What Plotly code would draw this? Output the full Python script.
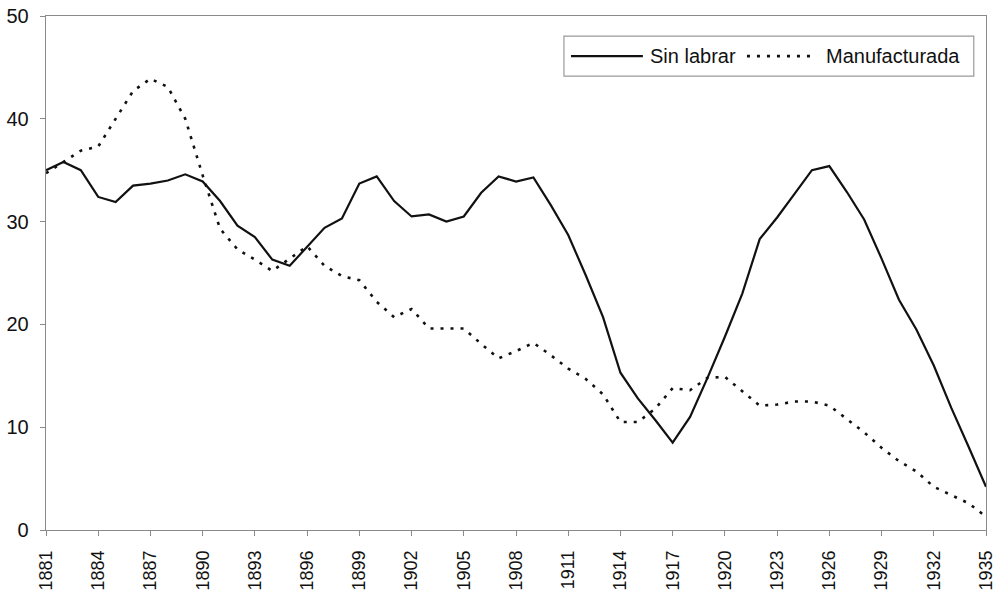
import plotly.graph_objects as go

years = list(range(1881, 1936))

sin_labrar = [35.0, 35.8, 35.0, 32.4, 31.9, 33.5, 33.7, 34.0, 34.6, 33.9,
              32.0, 29.6, 28.5, 26.3, 25.7, 27.5, 29.4, 30.3, 33.7, 34.4,
              32.0, 30.5, 30.7, 30.0, 30.5, 32.8, 34.4, 33.9, 34.3, 31.6,
              28.7, 24.8, 20.7, 15.3, 12.8, 10.7, 8.5, 11.0, 14.8, 18.8,
              23.0, 28.3, 30.4, 32.7, 35.0, 35.4, 32.9, 30.2, 26.4, 22.4,
              19.5, 16.0, 11.9, 8.1, 4.2]

manufacturada = [34.7, 35.8, 36.9, 37.3, 40.0, 42.7, 43.9, 43.1, 40.0, 34.5,
                 29.3, 27.3, 26.3, 25.2, 26.4, 27.6, 25.7, 24.7, 24.3, 22.2,
                 20.7, 21.5, 19.6, 19.6, 19.6, 18.1, 16.7, 17.4, 18.2, 17.0,
                 15.7, 14.7, 13.2, 10.5, 10.5, 11.8, 13.8, 13.6, 14.8, 14.9,
                 13.5, 12.1, 12.2, 12.5, 12.5, 12.1, 10.8, 9.5, 8.0, 6.7,
                 5.7, 4.2, 3.4, 2.6, 1.3]

series_names = ["Sin labrar", "Manufacturada"]
tick_years = list(range(1881, 1936, 3))
y_ticks = [0, 10, 20, 30, 40, 50]

FONT = "Arial, Liberation Sans, Helvetica, sans-serif"
INK = "#111111"
AXIS = "#8a8a8a"
SOLID = dict(color=INK, width=2.2)
DOTTED = dict(color=INK, width=2.6, dash="3px,7px")

fig = go.Figure()
fig.add_trace(go.Scatter(x=years, y=sin_labrar, mode="lines", name=series_names[0],
                         line=SOLID, showlegend=False))
fig.add_trace(go.Scatter(x=years, y=manufacturada, mode="lines", name=series_names[1],
                         line=DOTTED, showlegend=False))

# custom legend (Excel-style box with long line samples)
fig.add_shape(type="rect", xref="paper", yref="paper", x0=0.551, x1=0.987,
              y0=0.883, y1=0.961, line=dict(color="#999999", width=1.2),
              fillcolor="white", layer="above")
fig.add_shape(type="line", xref="paper", yref="paper", x0=0.5585, x1=0.635,
              y0=0.922, y1=0.922, line=SOLID, layer="above")
fig.add_shape(type="line", xref="paper", yref="paper", x0=0.7457, x1=0.816,
              y0=0.922, y1=0.922, line=DOTTED, layer="above")
fig.add_annotation(xref="paper", yref="paper", x=0.6405, y=0.922, text=series_names[0],
                   showarrow=False, xanchor="left", yanchor="middle",
                   font=dict(size=20, family=FONT, color=INK))
fig.add_annotation(xref="paper", yref="paper", x=0.8277, y=0.922, text=series_names[1],
                   showarrow=False, xanchor="left", yanchor="middle",
                   font=dict(size=20, family=FONT, color=INK))

fig.update_layout(
    width=1004, height=591,
    margin=dict(l=46, r=18, t=16, b=61, autoexpand=False),
    paper_bgcolor="white", plot_bgcolor="white",
    font=dict(family=FONT, color=INK, size=19),
    showlegend=False,
)
fig.update_xaxes(range=[1881, 1935], tickmode="array", tickvals=tick_years,
                 ticktext=[str(t) for t in tick_years], tickangle=-90,
                 ticks="outside", ticklen=5, tickcolor=AXIS,
                 showline=True, linecolor=AXIS, linewidth=1.3, mirror=True,
                 showgrid=False, zeroline=False, ticklabelstandoff=7,
                 automargin=False, tickfont=dict(size=18, family=FONT))
fig.update_yaxes(range=[0, 50], tickmode="array", tickvals=y_ticks,
                 ticks="outside", ticklen=5, tickcolor=AXIS,
                 showline=True, linecolor=AXIS, linewidth=1.3, mirror=True,
                 showgrid=False, zeroline=False, ticklabelstandoff=7,
                 automargin=False, tickfont=dict(size=20, family=FONT))

# remove the default 8px page margin so the figure fills the window exactly
fig.write_html("out.html",
               config={"displayModeBar": False, "staticPlot": True},
               post_script="document.body.style.margin='0';document.body.style.overflow='hidden';")
